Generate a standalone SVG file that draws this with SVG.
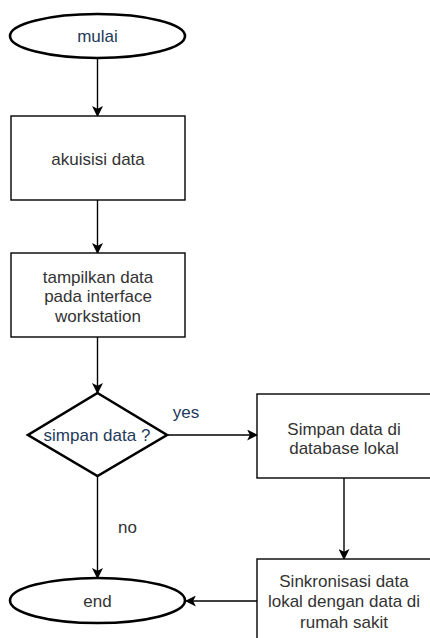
<svg xmlns="http://www.w3.org/2000/svg" width="430" height="638" viewBox="0 0 430 638">
<style>
.shape{fill:#fff;stroke:#000;stroke-width:2.6}
.box{fill:#fff;stroke:#000;stroke-width:1.4}
.edge{fill:none;stroke:#000;stroke-width:1.4}
text{font-family:"Liberation Sans",Arial,sans-serif;font-size:17px;fill:#333;text-anchor:middle}
.blue{fill:#23395b}
</style>
<defs>
<marker id="arr" viewBox="0 0 10 10" refX="9" refY="5" markerWidth="11" markerHeight="11" markerUnits="userSpaceOnUse" orient="auto">
<path d="M0,0 L10,5 L0,10 L2.5,5 Z" fill="#000"/>
</marker>
</defs>
<rect width="430" height="638" fill="#fff"/>
<g id="edges">
<line class="edge" x1="97.5" y1="58" x2="97.5" y2="116" marker-end="url(#arr)"/>
<line class="edge" x1="97.5" y1="200" x2="97.5" y2="253" marker-end="url(#arr)"/>
<line class="edge" x1="97.5" y1="337" x2="97.5" y2="393" marker-end="url(#arr)"/>
<line class="edge" x1="167" y1="435" x2="257" y2="435" marker-end="url(#arr)"/>
<line class="edge" x1="97.5" y1="476" x2="97.5" y2="578" marker-end="url(#arr)"/>
<line class="edge" x1="344" y1="478" x2="344" y2="559" marker-end="url(#arr)"/>
<line class="edge" x1="257" y1="601" x2="186" y2="601" marker-end="url(#arr)"/>
<text class="blue" x="186" y="418">yes</text>
<text x="127.5" y="533">no</text>
</g>
<g id="mulai">
<ellipse class="shape" cx="97.5" cy="36" rx="87.5" ry="22"/>
<text class="blue" x="97.5" y="42">mulai</text>
</g>
<g id="akuisisi">
<rect class="box" x="11" y="116" width="174" height="84"/>
<text x="98" y="165">akuisisi data</text>
</g>
<g id="tampilkan">
<rect class="box" x="11" y="253" width="174" height="84"/>
<text x="98" y="283">tampilkan data</text>
<text x="98" y="302">pada interface</text>
<text x="98" y="322">workstation</text>
</g>
<g id="simpan-q">
<polygon class="shape" points="97.5,393 167,435 97.5,476 28,435"/>
<text class="blue" x="97" y="441">simpan data ?</text>
</g>
<g id="simpan">
<rect class="box" x="257" y="394" width="174" height="84"/>
<text x="344" y="435">Simpan data di</text>
<text x="344" y="454">database lokal</text>
</g>
<g id="sinkronisasi">
<rect class="box" x="257" y="559" width="174" height="84"/>
<text x="344" y="587">Sinkronisasi data</text>
<text x="344" y="607">lokal dengan data di</text>
<text x="344" y="628">rumah sakit</text>
</g>
<g id="end">
<ellipse class="shape" cx="97.5" cy="600.5" rx="87.5" ry="22.5"/>
<text x="97.5" y="607">end</text>
</g>
</svg>
